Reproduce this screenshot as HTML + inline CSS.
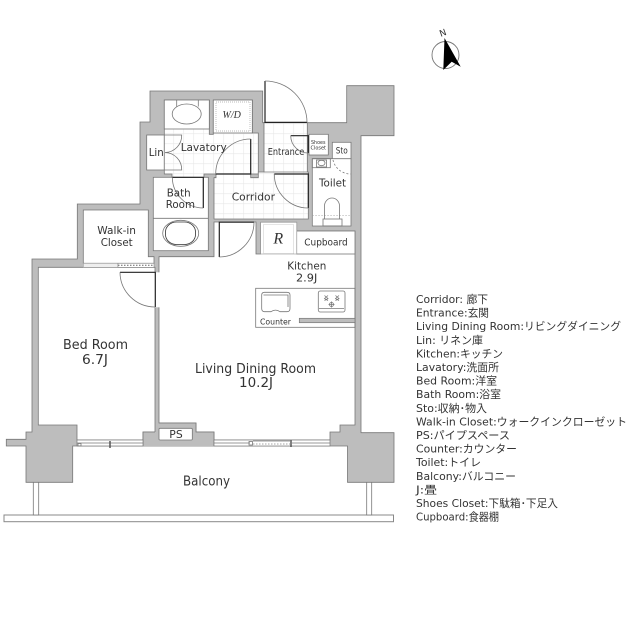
<!DOCTYPE html>
<html><head><meta charset="utf-8"><style>
html,body{margin:0;padding:0;background:#fff}
svg{display:block}
text{font-family:"DejaVu Sans","Noto Sans CJK JP",sans-serif;fill:#333}
.s{fill:none;stroke:#777;stroke-width:.8}
.b{fill:none;stroke:#222;stroke-width:1.2}
.w{fill:#fff;stroke:#777;stroke-width:.8}
.g{fill:url(#grid);stroke:#777;stroke-width:.8}
.serif{font-family:"Liberation Serif",serif;font-style:italic}
</style></head><body>
<svg width="640" height="640" viewBox="0 0 640 640" xmlns="http://www.w3.org/2000/svg">
<defs><pattern id="grid" patternUnits="userSpaceOnUse" x="3.3" y="3.3" width="10" height="10">
<rect width="10" height="10" fill="#fff"/><path d="M0 0H10M0 0V10" stroke="#e8e8e8" stroke-width="1.2" fill="none"/></pattern></defs>

<!-- balcony rail -->
<rect x="4" y="515" width="389.5" height="6.7" fill="#fff" stroke="#888" stroke-width="1"/>
<rect x="33.3" y="482" width="5.4" height="33" class="w"/>
<rect x="366.7" y="482" width="5" height="33" class="w"/>

<!-- walls -->
<polygon fill="#bdbdbd" stroke="#777" stroke-width=".8" points="150,91 262.7,91 262.7,122.7 346.7,122.7 346.7,85.7 394,85.7 394,135.7 361,135.7 361,432.7 394,432.7 394,482.3 347.5,482.3 347.5,446 72.7,446 72.7,482.3 26,482.3 26,446 6.3,446 6.3,439.3 26,439.3 26,432 32,432 32,259 77.3,259 77.3,204 140,204 140,122 150,122"/>

<!-- rooms -->
<polygon class="w" points="38.3,267.3 155,267.3 155,432 143,432 143,440 77,440 77,425 38.3,425"/>
<polygon class="w" points="159,256.7 214,256.7 214,222 256,222 256,254 260.7,254 260.7,222.3 296.7,222.3 296.7,231 355,231 355,425 340,425 340,432 330,432 330,440 214,440 214,432 196,432 196,423 159,423"/>
<rect x="154" y="272.3" width="6" height="35" fill="#fff"/>
<polygon class="w" points="83.3,210 148.3,210 148.3,256.7 154,256.7 154,263.3 83.3,263.3"/>
<rect x="153.3" y="177.3" width="55" height="73.4" class="w"/>
<path d="M153.3 218.3H208.3" class="s"/>
<rect x="146.7" y="135" width="17.6" height="35" class="w"/>

<polygon class="g" points="164.3,100 209.3,100 209.3,134.3 213.3,134.3 213.3,100 252.3,100 252.3,133 258.3,133 258.3,174 216,174 204,174 204,177.3 172,177.3 172,174 164.3,174"/>
<rect x="164.3" y="100" width="45" height="29" class="w"/>
<rect x="213.3" y="100" width="39" height="33" class="w"/>
<polygon class="g" points="264,122.7 307.3,122.7 307.3,172 308.3,172 308.3,219 214,219 214,177.7 216,177.7 216,174 250.7,174 250.7,177.7 258.3,177.7 258.3,172 264,172"/>
<path d="M264 172H308" class="s"/>

<rect x="309" y="134.3" width="19.3" height="20.7" class="w"/>
<rect x="332.3" y="142.3" width="18.7" height="16.7" class="w"/>
<polygon class="w" points="312.3,158.7 351,158.7 351,226 312.3,226"/>
<rect x="296.7" y="231" width="58.3" height="23" class="w"/>
<rect x="260.7" y="222.3" width="36" height="31.7" fill="#fff" stroke="#999" stroke-width=".6"/>
<rect x="263.5" y="224.5" width="30" height="29" fill="none" stroke="#bbb" stroke-width=".8" stroke-dasharray="1 1"/>

<!-- W/D -->
<rect x="216" y="102" width="34" height="29" fill="none" stroke="#bbb" stroke-width=".9" stroke-dasharray="1 1"/>

<!-- basin -->
<path d="M176.7 100V106.5M198.3 100V106.5" class="s"/>
<ellipse cx="186.7" cy="114" rx="14.5" ry="10" class="s"/>

<!-- lin doors -->
<path d="M164.3 135H181.7A17 17 0 0 1 165 152.5A17 17 0 0 1 181.7 170H164.3" class="s"/>

<!-- bath tub -->
<ellipse cx="180.7" cy="233.3" rx="18" ry="13" class="s"/>
<rect x="165.5" y="222" width="30" height="22.5" rx="11" ry="10" fill="none" stroke="#333" stroke-width=".8"/>

<!-- kitchen counter -->
<rect x="255.7" y="288.3" width="99.3" height="39" class="s"/>
<rect x="299.3" y="318.3" width="55.7" height="4.4" fill="#bdbdbd" stroke="#777" stroke-width=".7"/>
<path d="M261.7 295Q261.7 292.3 264.5 292.3H287Q290 292.3 290 295V308.5Q290 311.7 287 311.7H280Q275.5 308.5 271 311.7H264.5Q261.7 311.7 261.7 308.5Z" class="s"/>
<path d="M263.5 295H288V307" class="s" stroke-width=".5"/>
<rect x="318.3" y="291" width="26.7" height="21" rx="2" class="s"/>
<path d="M319 308.5H344" class="s"/>
<g class="s" stroke-width=".8">
<path d="M324.5 295.5 328 298.5 324.5 300.5 M328 295.5 324.5 298.5 328 300.5" />
<path d="M335.5 295.5 339 298.5 335.5 300.5 M339 295.5 335.5 298.5 339 300.5" />
<circle cx="331.5" cy="304.5" r="2"/><path d="M328.5 304.5H334.5M331.5 301.5V307.5"/>
</g>

<!-- toilet -->
<path d="M312.3 215.7H351" fill="none" stroke="#aaa" stroke-width=".7" stroke-dasharray="1.5 1.5"/>
<path d="M324.5 219V206A7.5 8 0 0 1 339.5 206V219" class="s"/>
<rect x="323" y="219" width="19" height="7" class="s"/>
<rect x="312.3" y="158.7" width="18" height="9" class="s"/>
<rect x="316.5" y="160" width="10" height="7" class="s"/>
<ellipse cx="321.5" cy="163" rx="3.5" ry="2.7" class="s"/>
<path d="M333 160A18 18 0 0 0 351 174" fill="none" stroke="#777" stroke-width=".8" stroke-dasharray="2 2"/>

<!-- PS -->
<polygon fill="#bdbdbd" points="155,432 159,432 159,423 196,423 196,432 214,432 214,446 143,446 143,432"/>
<path d="M143 446V432H155M159 423H196V432H214V446" class="s"/>
<rect x="159" y="428.3" width="33.3" height="11.7" rx="1" class="w"/>

<!-- windows -->
<rect x="77" y="440" width="66" height="6" fill="#fff" stroke="#777" stroke-width=".7"/>
<path d="M77 443H143" class="s" stroke-width=".6"/>
<rect x="78" y="443.5" width="3" height="2.5" class="s"/>
<path d="M110 441V448" stroke="#555" stroke-width="1.5"/>
<rect x="214" y="440" width="116" height="6" fill="#fff" stroke="#777" stroke-width=".7"/>
<path d="M214 443H250M292 443H330" class="s" stroke-width=".6"/>
<rect x="249" y="441.5" width="3.5" height="3.5" class="s"/>
<path d="M253 444H290" fill="none" stroke="#888" stroke-width=".8" stroke-dasharray="1.5 1.5"/>
<path d="M253 441H290" class="s" stroke-width=".6"/>
<path d="M291 440V447" stroke="#555" stroke-width="1.5"/>

<!-- WIC sliding -->
<rect x="83.3" y="263.3" width="34.7" height="4" fill="#eee" stroke="#999" stroke-width=".6"/>
<rect x="118" y="263.3" width="36" height="4" fill="#fff" stroke="#888" stroke-width=".6"/>
<path d="M118 265.3H154" fill="none" stroke="#666" stroke-width="1" stroke-dasharray="1.5 1.5"/>

<!-- doors -->
<path d="M265 81V122.4H307" class="b"/><path d="M265 81A42 41.5 0 0 1 307 122.4" class="s"/>
<path d="M215.7 174H250.7V139" class="b"/><path d="M215.7 174A35 35 0 0 1 250.7 139" class="s"/>
<path d="M274.3 174H308.3V208" class="b"/><path d="M274.3 174A34 34 0 0 0 308.3 208" class="s"/>
<path d="M290.7 135.7H308.3V153" class="b"/><path d="M290.7 135.7A17.5 17.5 0 0 0 308.3 153" class="s"/>
<path d="M172.3 177.3H203.3V208" class="b"/><path d="M172.3 177.3A31 31 0 0 0 203.3 208" class="s"/>
<path d="M254 222.2H219.3V257" class="b"/><path d="M254 222.2A35 35 0 0 1 219.3 257" class="s"/>
<path d="M120 272.3H155.3V307" class="b"/><path d="M120 272.3A35 35 0 0 0 155.3 307" class="s"/>

<!-- compass -->
<circle cx="445.5" cy="55" r="13.5" fill="#fff" stroke="#777" stroke-width=".9"/>
<polygon points="444.5,38 460.7,66.7 451.7,61.7 443.3,70" fill="#000"/>
<text x="442.5" y="36" font-size="9" text-anchor="middle" transform="rotate(-20 442.5 32)">N</text>

<!-- labels -->
<g font-size="11">
<text x="180.7" y="151" font-size="11" textLength="46" lengthAdjust="spacingAndGlyphs">Lavatory</text>
<text x="148.7" y="156" font-size="11" textLength="15" lengthAdjust="spacingAndGlyphs">Lin</text>
<text x="267.7" y="155" font-size="9.5" textLength="36.6" lengthAdjust="spacingAndGlyphs">Entrance</text>
<text x="311" y="144" font-size="5.5" textLength="14.5" lengthAdjust="spacingAndGlyphs">Shoes</text>
<text x="310.5" y="149.6" font-size="5.5" textLength="15.5" lengthAdjust="spacingAndGlyphs">Closet</text>
<text x="335.7" y="153.3" font-size="9" textLength="12" lengthAdjust="spacingAndGlyphs">Sto</text>
<text x="319" y="186.7" font-size="11" textLength="27" lengthAdjust="spacingAndGlyphs">Toilet</text>
<text x="166.7" y="196.3" font-size="11" textLength="24" lengthAdjust="spacingAndGlyphs">Bath</text>
<text x="165.7" y="208" font-size="11" textLength="29.3" lengthAdjust="spacingAndGlyphs">Room</text>
<text x="231.7" y="200.7" font-size="11" textLength="43.3" lengthAdjust="spacingAndGlyphs">Corridor</text>
<text class="serif" x="278.3" y="243.5" font-size="16" text-anchor="middle">R</text>
<text class="serif" x="231.7" y="118" font-size="10" text-anchor="middle">W/D</text>
<text x="304.3" y="245.7" font-size="10" textLength="43.4" lengthAdjust="spacingAndGlyphs">Cupboard</text>
<text x="287.3" y="269.7" font-size="11" textLength="39" lengthAdjust="spacingAndGlyphs">Kitchen</text>
<text x="296" y="281.7" font-size="11" textLength="21.3" lengthAdjust="spacingAndGlyphs">2.9J</text>
<text x="260" y="324.7" font-size="8" textLength="31" lengthAdjust="spacingAndGlyphs">Counter</text>
<text x="97.3" y="234" font-size="11" textLength="38.7" lengthAdjust="spacingAndGlyphs">Walk-in</text>
<text x="100.7" y="246" font-size="11" textLength="32" lengthAdjust="spacingAndGlyphs">Closet</text>
<text x="63" y="349" font-size="13" textLength="65" lengthAdjust="spacingAndGlyphs">Bed Room</text>
<text x="82" y="364" font-size="13" textLength="26" lengthAdjust="spacingAndGlyphs">6.7J</text>
<text x="195" y="373" font-size="13" textLength="121" lengthAdjust="spacingAndGlyphs">Living Dining Room</text>
<text x="239" y="387" font-size="13" textLength="34" lengthAdjust="spacingAndGlyphs">10.2J</text>
<text x="183" y="485.5" font-size="13" textLength="47" lengthAdjust="spacingAndGlyphs">Balcony</text>
<text x="169.3" y="438" font-size="11" textLength="13.4" lengthAdjust="spacingAndGlyphs">PS</text>
</g>

<!-- legend -->
<g font-size="11">
<text x="416" y="303" textLength="72" lengthAdjust="spacingAndGlyphs">Corridor: 廊下</text>
<text x="416" y="316.6" textLength="73" lengthAdjust="spacingAndGlyphs">Entrance:玄関</text>
<text x="416" y="330.2" textLength="205" lengthAdjust="spacingAndGlyphs">Living Dining Room:リビングダイニング</text>
<text x="416" y="343.8" textLength="67" lengthAdjust="spacingAndGlyphs">Lin: リネン庫</text>
<text x="416" y="357.4" textLength="87" lengthAdjust="spacingAndGlyphs">Kitchen:キッチン</text>
<text x="416" y="371" textLength="83" lengthAdjust="spacingAndGlyphs">Lavatory:洗面所</text>
<text x="416" y="384.6" textLength="81" lengthAdjust="spacingAndGlyphs">Bed Room:洋室</text>
<text x="416" y="398.2" textLength="85" lengthAdjust="spacingAndGlyphs">Bath Room:浴室</text>
<text x="416" y="411.8" textLength="71" lengthAdjust="spacingAndGlyphs">Sto:収納･物入</text>
<text x="416" y="425.4" textLength="211" lengthAdjust="spacingAndGlyphs">Walk-in Closet:ウォークインクローゼット</text>
<text x="416" y="439" textLength="94" lengthAdjust="spacingAndGlyphs">PS:パイプスペース</text>
<text x="416" y="452.6" textLength="101" lengthAdjust="spacingAndGlyphs">Counter:カウンター</text>
<text x="416" y="466.2" textLength="65" lengthAdjust="spacingAndGlyphs">Toilet:トイレ</text>
<text x="416" y="479.8" textLength="100" lengthAdjust="spacingAndGlyphs">Balcony:バルコニー</text>
<text x="416" y="493.4" textLength="21" lengthAdjust="spacingAndGlyphs">J:畳</text>
<text x="416" y="507" textLength="142" lengthAdjust="spacingAndGlyphs">Shoes Closet:下駄箱･下足入</text>
<text x="416" y="520.6" textLength="83" lengthAdjust="spacingAndGlyphs">Cupboard:食器棚</text>
</g>
</svg>
</body></html>
